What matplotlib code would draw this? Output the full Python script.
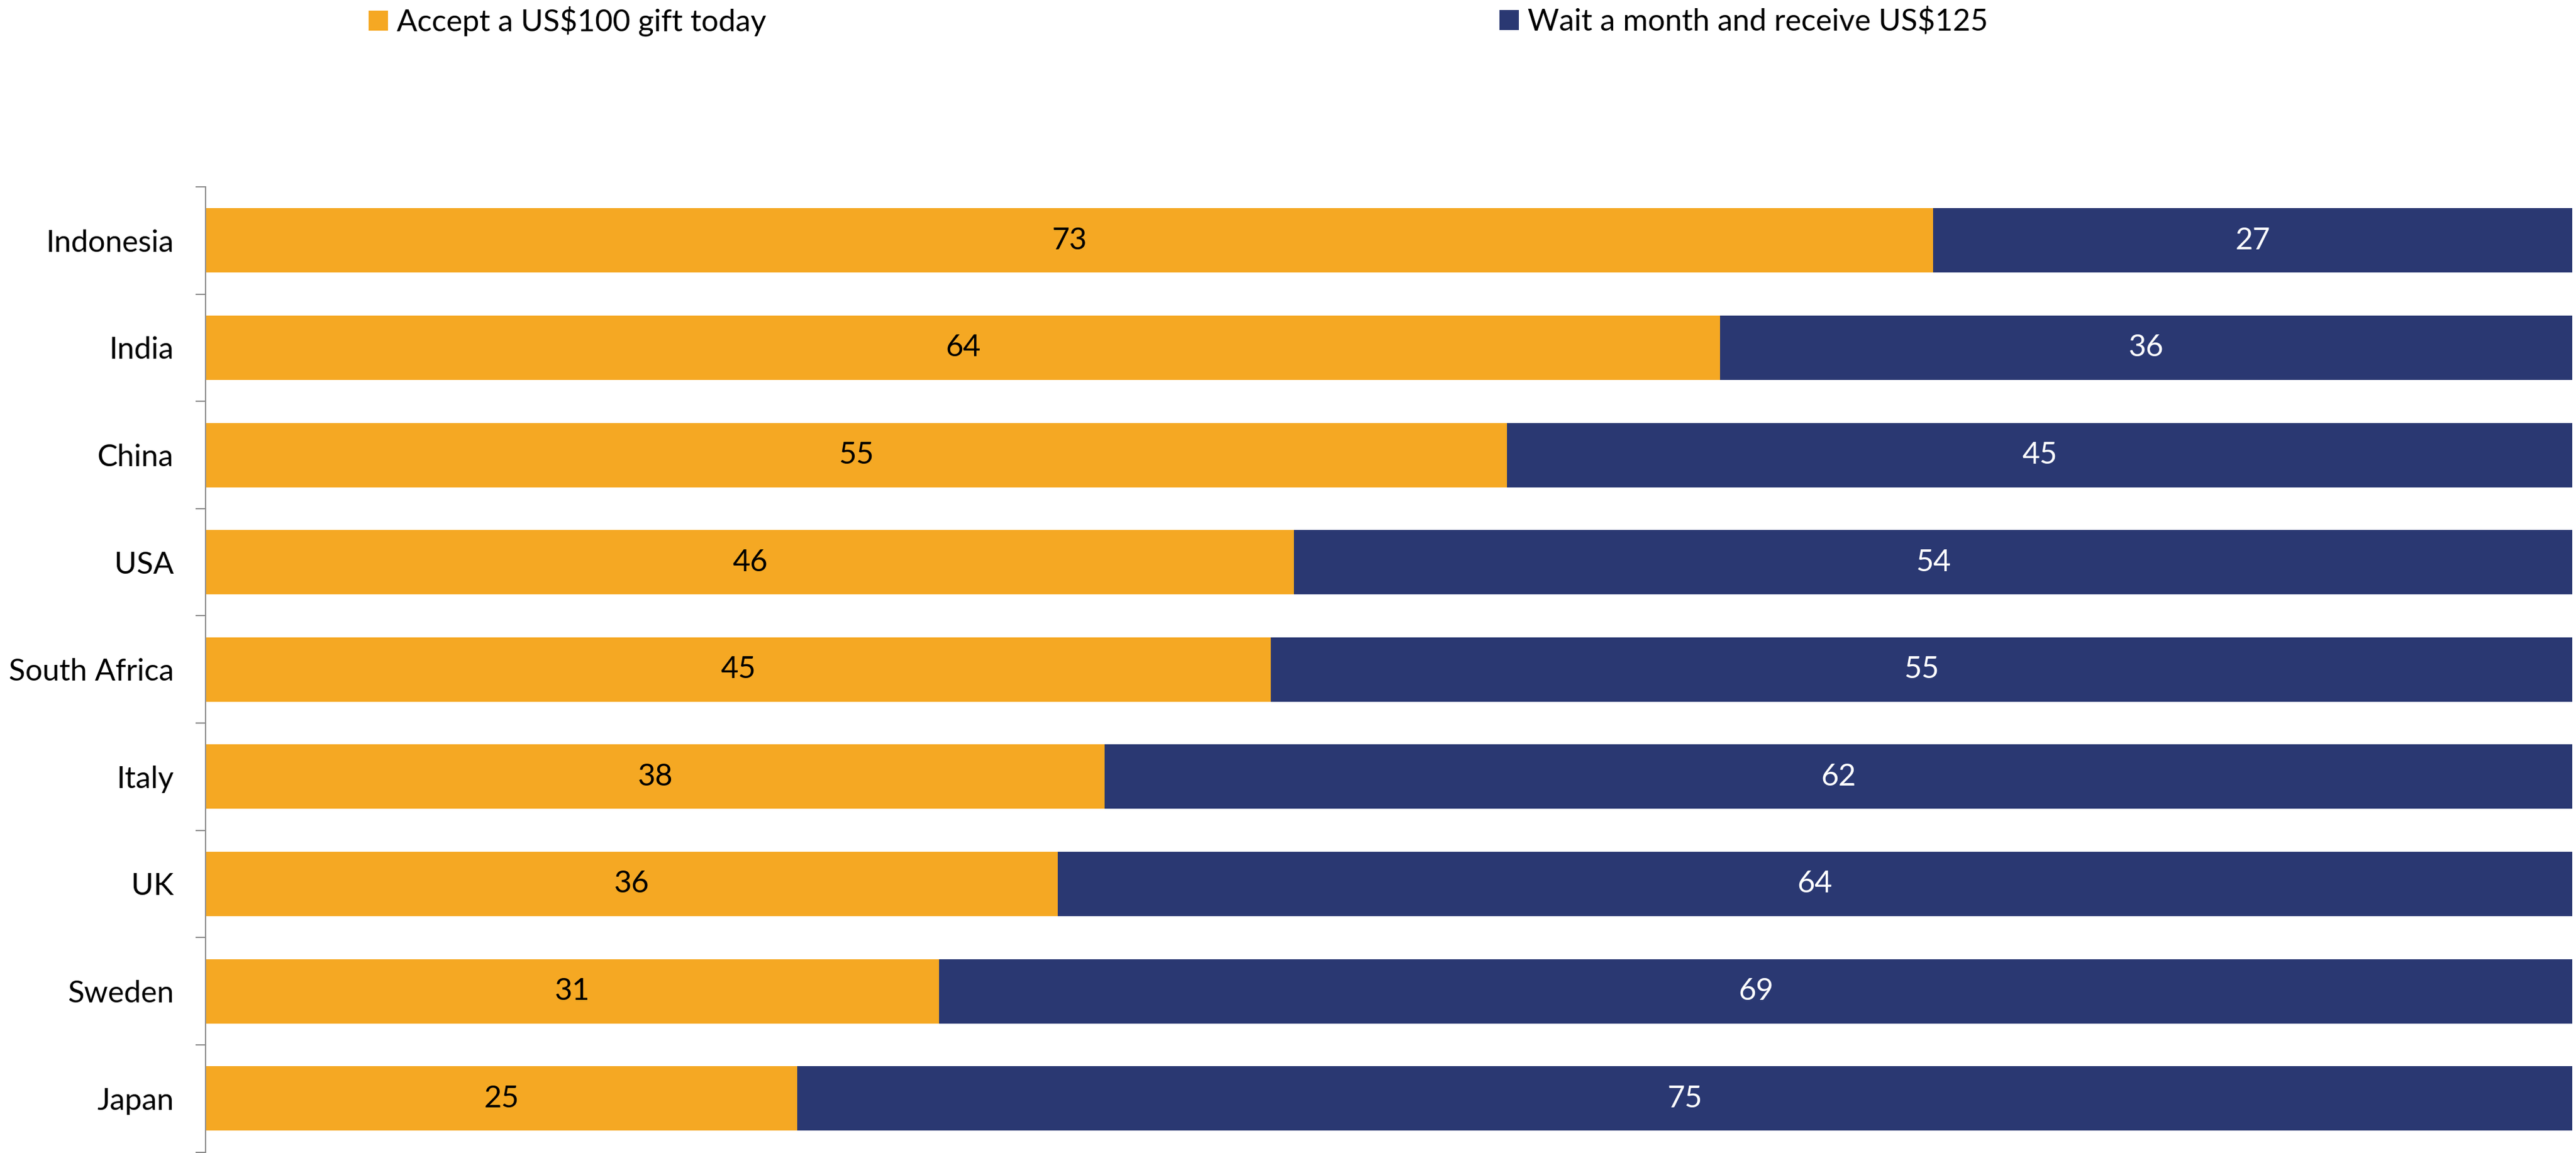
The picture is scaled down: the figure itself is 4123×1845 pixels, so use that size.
import matplotlib
matplotlib.use("Agg")
import matplotlib.pyplot as plt
import numpy as np

countries = ["Indonesia", "India", "China", "USA", "South Africa",
             "Italy", "UK", "Sweden", "Japan"]
accept_today = [73, 64, 55, 46, 45, 38, 36, 31, 25]
wait_month = [27, 36, 45, 54, 55, 62, 64, 69, 75]
series_names = ["Accept a US$100 gift today", "Wait a month and receive US$125"]

ORANGE = "#F5A823"
NAVY = "#2A3872"
GREY = "#8C8C8C"

plt.rcParams["font.family"] = ["Lato", "DejaVu Sans"]

W, H, DPI = 4123, 1845, 100
fig = plt.figure(figsize=(W / DPI, H / DPI), dpi=DPI)
ax = fig.add_axes([329 / W, 1.5 / H, 3788 / W, (H - 299 - 1.5) / H])

y = np.arange(len(countries))
b1 = ax.barh(y, accept_today, height=0.6, color=ORANGE, label=series_names[0])
b2 = ax.barh(y, wait_month, left=accept_today, height=0.6, color=NAVY,
             label=series_names[1])

ax.bar_label(b1, labels=[str(v) for v in accept_today], label_type="center",
             fontsize=35, color="black")
ax.bar_label(b2, labels=[str(v) for v in wait_month], label_type="center",
             fontsize=35, color="white")

ax.set_xlim(0, 100)
ax.set_ylim(len(countries) - 0.5, -0.5)

# category boundaries carry the tick marks, centres carry the names
ax.set_yticks(np.arange(len(countries) + 1) - 0.5)
ax.set_yticklabels([])
ax.set_yticks(y, minor=True)
ax.set_yticklabels(countries, minor=True, fontsize=35)
ax.tick_params(axis="y", which="major", direction="out", length=11.5,
               width=1.44, color=GREY)
ax.tick_params(axis="y", which="minor", length=0, pad=36.5)
ax.set_xticks([])

for s in ["top", "right", "bottom"]:
    ax.spines[s].set_visible(False)
ax.spines["left"].set_color(GREY)
ax.spines["left"].set_linewidth(1.44)

# legend entries
leg_y = 1 - 34 / H
for handle, x0 in [(b1, 590), (b2, 2400)]:
    fig.legend(handles=[handle], loc="center left",
               bbox_to_anchor=(x0 / W, leg_y), frameon=False,
               fontsize=35, handlelength=0.63, handleheight=0.63,
               handletextpad=0.3, borderpad=0, borderaxespad=0)

fig.savefig("out.png", dpi=DPI)
